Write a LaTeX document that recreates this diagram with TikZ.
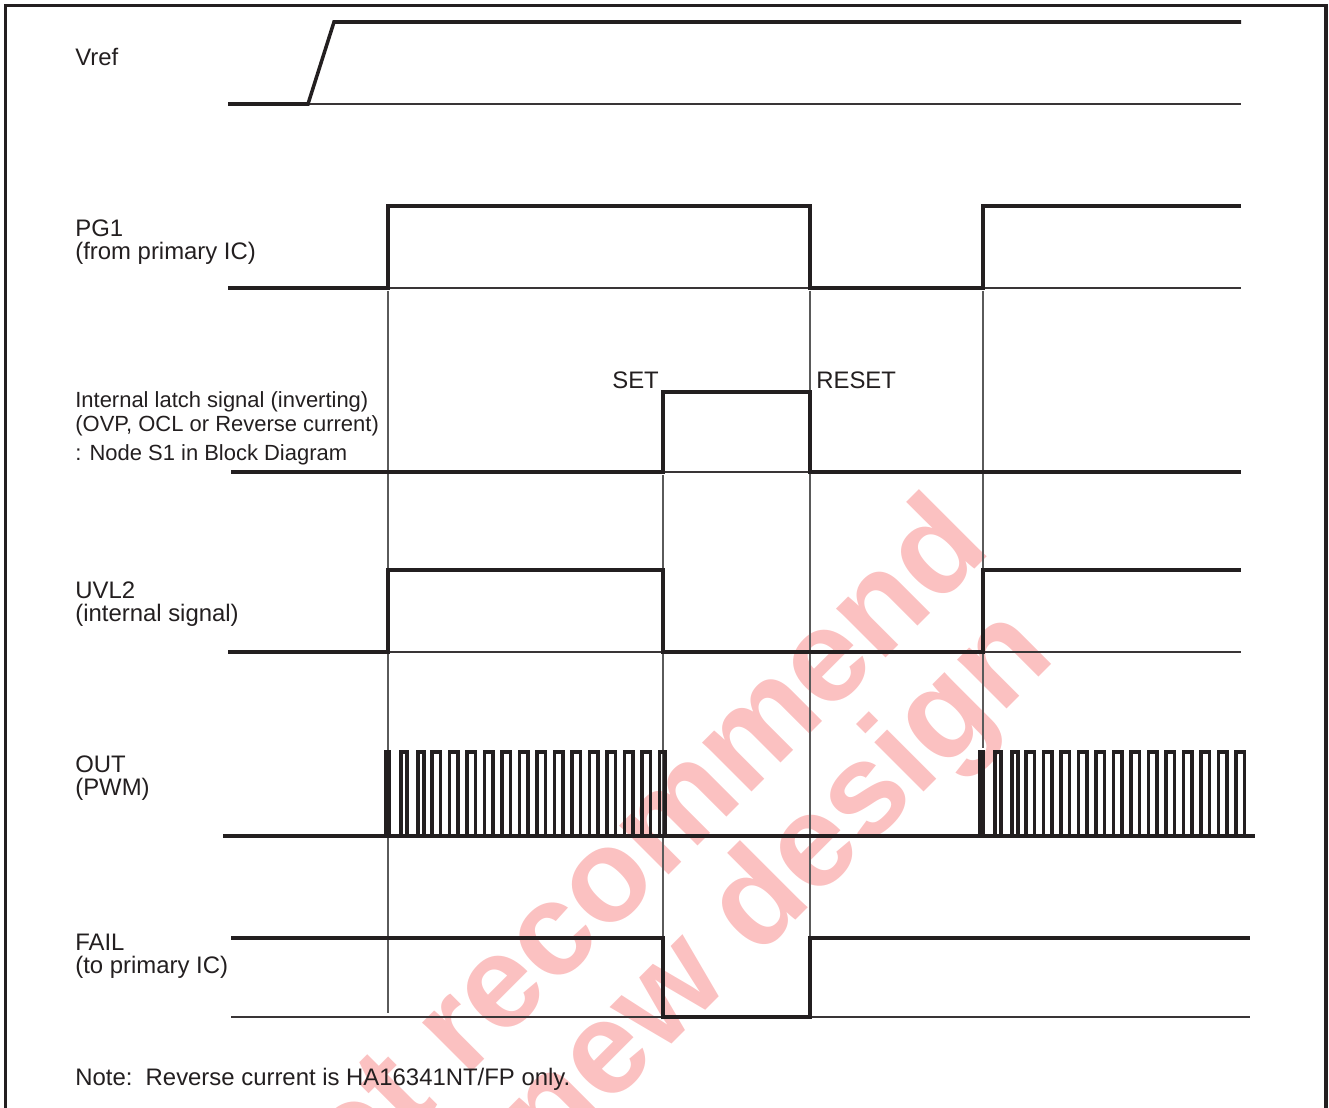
\documentclass[tikz,border=0pt]{standalone}
\usepackage{fontspec}
\setmainfont{Liberation Sans}
\usetikzlibrary{positioning}
\definecolor{InkBlack}{RGB}{35,31,32}
\definecolor{GuideGray}{RGB}{90,90,90}
\definecolor{WmPink}{RGB}{251,193,193}
\tikzset{
  sig/.style   ={draw=InkBlack, line width=2pt, line join=miter},
  base/.style  ={draw=InkBlack!90, line width=0.9pt},
  guide/.style ={draw=GuideGray, line width=0.6pt},
  lbl/.style   ={anchor=base west, inner sep=0pt, text=InkBlack,
                 font=\fontsize{13.6}{13.6}\selectfont},
  lblsm/.style ={lbl, font=\fontsize{12.5}{12.5}\selectfont},
  wmark/.style ={anchor=base east, inner sep=0pt, rotate=45, text=WmPink,
                 font=\fontsize{75}{75}\selectfont\bfseries},
}

\begin{document}
\begin{tikzpicture}[x=0.02cm,y=-0.02cm]
  \useasboundingbox (0,0) rectangle (1329,1108);

  % watermark and frame
  \begin{scope}
    \clip (0,0) rectangle (1329,1108);
    \node[wmark] (wm1) at (994,550) {Not recommend};
    \node[wmark] (wm2) at (1058,658) {for new design};
    \draw[InkBlack, line width=2.2pt] (5.5,1200) -- (5.5,5.5) -- (1326,5.5) -- (1326,1200);
  \end{scope}

  % labels
  \node[lbl] (vref) at (75,66) {Vref};
  \node[lbl] (pga) at (75,237) {PG1};
  \node[lbl] (pgb) at (75,260) {(from primary IC)};
  \node[lblsm] (lta) at (75,407) {Internal latch signal (inverting)};
  \node[lblsm] (ltb) at (75,431) {(OVP, OCL or Reverse current)};
  \node[lblsm] (ltc) at (75,460) {: Node S1 in Block Diagram};
  \node[lbl] (uva) at (75,598) {UVL2};
  \node[lbl] (uvb) at (75,621) {(internal signal)};
  \node[lbl] (outa) at (75,772) {OUT};
  \node[lbl] (outb) at (75,795) {(PWM)};
  \node[lbl] (faila) at (75,950) {FAIL};
  \node[lbl] (failb) at (75,973) {(to primary IC)};
  \node[lbl] (note) at (75,1085) {Note:\ \ Reverse current is HA16341NT/FP only.};
  \node[lbl] (set) at (612,388) {SET};
  \node[lbl] (reset) at (816,388) {RESET};

  % guides
  \draw[guide] (388,291) -- (388,1013);
  \draw[guide] (663,475) -- (663,1017);
  \draw[guide] (810,291) -- (810,938);
  \draw[guide] (983,291) -- (983,748);

  % Vref
  \draw[base] (308,104) -- (1241,104);
  \draw[sig] (228,104) -- (308,104) -- (334,22) -- (1241,22);

  % PG1
  \draw[base] (388,288) -- (1241,288);
  \draw[sig] (228,288) -| (388,206) -| (810,288) -| (983,206) -- (1241,206);

  % latch
  \draw[base] (663,472) -- (810,472);
  \draw[sig] (231,472) -| (663,392) -| (810,472) -- (1241,472);

  % UVL2
  \draw[base] (388,652) -- (1241,652);
  \draw[sig] (228,652) -| (388,570) -| (663,652) -| (983,570) -- (1241,570);

  % OUT
  \draw[sig] (223,836) -- (1255,836);
  \foreach \xs/\kmax in {386/12,980/12}{
    \foreach \o/\w in {0/3,15/6,32/6}
      \draw[sig] (\xs+\o,836) |- ++(\w,-84) -- ++(0,84);
    \foreach \k in {0,...,\kmax}
      \draw[sig] ({\xs+46+17.5*\k},836) |- ++(8.5,-84) -- ++(0,84);
  }
  \draw[sig] (659.5,836) |- (665,752) -- (665,836);

  % FAIL
  \draw[base] (231,1017) -- (1250,1017);
  \draw[sig] (231,938) -| (663,1017) -| (810,938) -- (1250,938);
\end{tikzpicture}
\end{document}
